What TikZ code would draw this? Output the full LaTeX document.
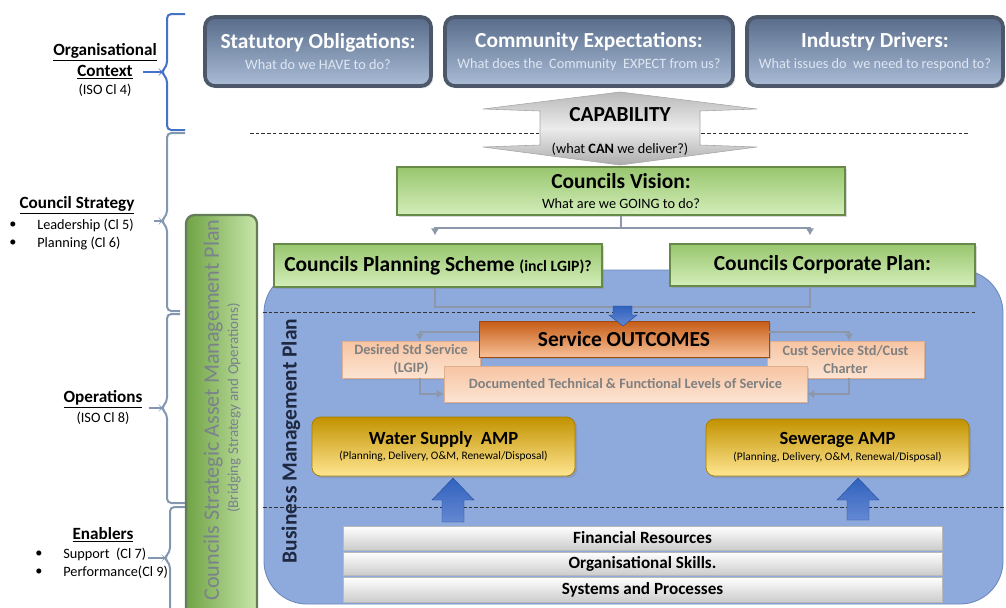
\documentclass[tikz,border=0pt]{standalone}
\usepackage{fontspec}
\setmainfont{Carlito}
\usetikzlibrary{arrows.meta,positioning,shadows}
\definecolor{slateEdge}{RGB}{76,88,106}
\definecolor{slateTop}{RGB}{88,108,138}
\definecolor{slateBottom}{RGB}{170,188,214}
\definecolor{slateSub}{RGB}{222,230,242}
\definecolor{leafEdge}{RGB}{104,138,72}
\definecolor{leafTop}{RGB}{152,198,110}
\definecolor{leafBottom}{RGB}{212,238,186}
\definecolor{sampDark}{RGB}{112,163,70}
\definecolor{sampLight}{RGB}{200,230,170}
\definecolor{sampEdge}{RGB}{100,124,88}
\definecolor{sampText}{RGB}{122,130,140}
\definecolor{poolBlue}{RGB}{142,169,219}
\definecolor{poolEdge}{RGB}{108,136,190}
\definecolor{bmpText}{RGB}{30,40,64}
\definecolor{emberTop}{RGB}{198,92,22}
\definecolor{emberBottom}{RGB}{247,192,152}
\definecolor{peachTop}{RGB}{247,196,162}
\definecolor{peachBottom}{RGB}{252,228,210}
\definecolor{mutedText}{RGB}{128,128,128}
\definecolor{goldTop}{RGB}{194,146,0}
\definecolor{goldBottom}{RGB}{255,230,146}
\definecolor{liftTop}{RGB}{48,98,190}
\definecolor{liftBottom}{RGB}{100,136,210}
\definecolor{linkGrey}{RGB}{140,152,170}
\definecolor{braceBlue}{RGB}{68,114,196}
\definecolor{braceGrey}{RGB}{132,151,176}

\begin{document}
\begin{tikzpicture}[
  x=0.7pt, y=-0.7pt,
  every node/.style={font=\fontsize{10}{12}\selectfont},
  pxsize/.style 2 args={minimum width=#1*0.7pt,minimum height=#2*0.7pt},
  heading/.style={font=\fontsize{12}{14}\selectfont\bfseries},
  leftnote/.style={anchor=west,inner sep=0pt},
  topbox/.style={draw=slateEdge,line width=2.6pt,rounded corners=7pt,top color=slateTop,bottom color=slateBottom,inner sep=0pt,align=center,text=white,drop shadow={opacity=0.3,shadow xshift=1.5pt,shadow yshift=-1.5pt}},
  leafbox/.style={draw=leafEdge,line width=2pt,top color=leafTop,bottom color=leafBottom,inner sep=0pt,align=center,drop shadow={opacity=0.3,shadow xshift=1.5pt,shadow yshift=-1.5pt}},
  pool/.style={draw=poolEdge,line width=0.6pt,fill=poolBlue,rounded corners=30pt,inner sep=0pt},
  emberbox/.style={draw=emberTop!80!black,line width=0.4pt,top color=emberTop,bottom color=emberBottom,inner sep=0pt,align=center,drop shadow={opacity=0.3,shadow xshift=1.2pt,shadow yshift=-1.2pt}},
  peachbox/.style={draw=peachTop!90!black,line width=0.4pt,top color=peachTop,bottom color=peachBottom,inner sep=0pt,align=center,text=mutedText,font=\fontsize{10}{13}\selectfont\bfseries,drop shadow={opacity=0.25,shadow xshift=1.2pt,shadow yshift=-1.2pt}},
  goldbox/.style={draw=goldTop!85!black,line width=0.5pt,rounded corners=6pt,top color=goldTop,bottom color=goldBottom,inner sep=0pt,align=center,drop shadow={opacity=0.3,shadow xshift=1.5pt,shadow yshift=-1.5pt}},
  barbox/.style={draw=gray!55,line width=0.6pt,top color=white,bottom color=gray!40,inner sep=0pt,font=\fontsize{12}{14}\selectfont\bfseries},
  liftarrow/.style={top color=liftTop,bottom color=liftBottom,draw=liftTop!80!black,line width=0.3pt},
  link/.style={draw=linkGrey,line width=1.4pt},
  linkto/.style={link,-{Latex[length=5pt,width=6pt]}},
  sidebrace/.style={line width=1.4pt,rounded corners=3pt},
  guide/.style={draw=black!80,line width=0.6pt,dash pattern=on 2.5pt off 1.5pt}
]
  \useasboundingbox (0,0) rectangle (1006,608);

  % left column: headings and their braces
  \node[heading] (orgTitle) at (105,52) {\underline{Organisational}};
  \node[heading] (orgCtx) at (105,72) {\underline{Context}};
  \node (orgIso) at (105,90) {(ISO Cl 4)};

  \node[heading] (stratTitle) at (77,205) {\underline{Council Strategy}};
  \node[leftnote] (stratDotA) at (9,225) {\textbullet};
  \node[leftnote] (stratLead) at (37,225) {Leadership (Cl 5)};
  \node[leftnote] (stratDotB) at (9,243) {\textbullet};
  \node[leftnote] (stratPlan) at (37,243) {Planning (Cl 6)};

  \node[heading] (opsTitle) at (103,399) {\underline{Operations}};
  \node (opsIso) at (103,418) {(ISO Cl 8)};

  \node[heading] (enabTitle) at (103,535) {\underline{Enablers}};
  \node[leftnote] (enabDotA) at (35,554) {\textbullet};
  \node[leftnote] (enabSupport) at (63,554) {Support\ \ (Cl 7)};
  \node[leftnote] (enabDotB) at (35,572) {\textbullet};
  \node[leftnote] (enabPerf) at (63,572) {Performance(Cl 9)};

  \draw[sidebrace,braceBlue] (185,14) -- (167,14) -- (167,66) -- (161,72) coordinate (tipOrg) -- (167,78) -- (167,130) -- (185,130);
  \draw[sidebrace,braceGrey] (185,133) -- (167,133) -- (167,215) -- (161,221) coordinate (tipStrat) -- (167,227) -- (167,311) -- (180,311);
  \draw[sidebrace,braceGrey] (180,314) -- (167,314) -- (167,402) -- (161,408) coordinate (tipOps) -- (167,414) -- (167,503) -- (185,503);
  \draw[sidebrace,braceGrey] (185,507) -- (170,507) -- (170,552) -- (164,558) coordinate (tipEnab) -- (170,564) -- (170,650);

  \draw[sidebrace,braceBlue] ([xshift=4pt]tipOrg -| orgCtx.east) -- (tipOrg);
  \draw[sidebrace,braceGrey] ([xshift=14pt]tipStrat -| stratLead.east) -- (tipStrat);
  \draw[sidebrace,braceGrey] ([xshift=1pt]tipOps -| opsTitle.east) -- (tipOps);
  \draw[sidebrace,braceGrey] ([xshift=1pt]tipEnab -| enabSupport.east) -- (tipEnab);

  % context boxes
  \node[topbox,pxsize={226}{69}] (statutory) at (318,51.5)
    {{\fontsize{15}{18}\selectfont\bfseries Statutory Obligations:}\\[3pt]{\color{slateSub}What do we HAVE to do?}};
  \node[topbox,pxsize={288}{69}] (community) at (589,51.5)
    {{\fontsize{15}{18}\selectfont\bfseries Community Expectations:}\\[3pt]{\color{slateSub}What does the\ \ Community\ \ EXPECT from us?}};
  \node[topbox,pxsize={256}{69}] (industry) at (875,51.5)
    {{\fontsize{15}{18}\selectfont\bfseries Industry Drivers:}\\[3pt]{\color{slateSub}What issues do\ \ we need to respond to?}};

  \draw[guide] (250,133) -- (970,133);
  \shade[top color=gray!55,bottom color=gray!65,middle color=gray!15,draw=gray!70]
    (620,92) -- (757,109) -- (700,111) -- (700,145) -- (757,147) -- (620,165)
    -- (483,147) -- (540,145) -- (540,111) -- (483,109) -- cycle;
  \node[font=\fontsize{15}{18}\selectfont\bfseries] (capability) at (620,115) {CAPABILITY};
  \node (canDeliver) at (620,149) {(what \textbf{CAN} we deliver?)};

  % strategy and the business management plan
  \node[pool,pxsize={739}{334}] (bizPlan) at (633.5,437) {};
  \draw[guide] (263,312) -- (977,312);
  \draw[guide] (263,507) -- (1006,507);

  \node[pxsize={71}{435},draw=sampEdge,line width=1.6pt,rounded corners=6pt,left color=sampDark,right color=sampLight,inner sep=0pt] (samp) at (221.5,432.5) {};
  \node[rotate=90,text=sampText,font=\fontsize{15.5}{18}\selectfont] (sampTitle) at (213,410) {Councils Strategic Asset Management Plan};
  \node[rotate=90,text=sampText,font=\fontsize{10.5}{12}\selectfont] (sampNote) at (234,408) {(Bridging Strategy and Operations)};

  \node[rotate=90,text=bmpText,font=\fontsize{15}{18}\selectfont\bfseries] (bizLabel) at (291,441) {Business Management Plan};

  \node[leafbox,pxsize={448}{48}] (vision) at (621,191)
    {{\fontsize{15}{18}\selectfont\bfseries Councils Vision:}\\[2pt]What are we GOING to do?};
  \node[leafbox,pxsize={328}{43}] (planScheme) at (438,265.5)
    {\fontsize{15}{18}\selectfont\bfseries Councils Planning Scheme {\fontsize{11}{13}\selectfont (incl LGIP)?}};
  \node[leafbox,pxsize={305}{42}] (corpPlan) at (822.5,265)
    {\fontsize{15}{18}\selectfont\bfseries Councils Corporate Plan:};

  \coordinate (tapL) at (435,0);
  \coordinate (tapR) at (810,0);
  \draw[link] (vision.south) -- ++(0,12) coordinate (fork);
  \draw[linkto] (fork) -| ([yshift=5pt]tapL |- planScheme.north);
  \draw[linkto] (fork) -| ([yshift=5pt]tapR |- corpPlan.north);
  \draw[link] (tapL |- planScheme.south) -- ++(0,19) -| (tapR |- corpPlan.south);

  % levels of service
  \node[peachbox,pxsize={138}{37}] (desiredStd) at (411,359.5) {Desired Std Service\\(LGIP)};
  \node[peachbox,pxsize={157}{37}] (custStd) at (845.5,359.5) {Cust Service Std/Cust\\Charter};
  \node[emberbox,pxsize={290}{36}] (outcomes) at (624,339) {\fontsize{15}{18}\selectfont\bfseries Service OUTCOMES};
  \node[peachbox,pxsize={363}{36}] (techLos) at (625.5,384) {Documented Technical \& Functional Levels of Service};

  \shade[liftarrow] (613,306) -- (632,306) -- (632,315) -- (637,315) -- (623,326) -- (609,315) -- (613,315) -- cycle;

  \draw[linkto] ([yshift=5pt]outcomes.west) -| ([xshift=6pt]desiredStd.north);
  \draw[linkto] ([xshift=6pt]desiredStd.south) |- ([yshift=-7pt]techLos.west);
  \draw[linkto] ([yshift=5pt]outcomes.east) -| ([xshift=2.5pt]custStd.north);
  \draw[linkto] ([xshift=2.5pt]custStd.south) |- ([yshift=-7pt]techLos.east);

  % asset management plans and enablers
  \node[goldbox,pxsize={263}{59}] (waterAmp) at (443.5,446.5)
    {{\fontsize{13}{15}\selectfont\bfseries Water Supply\ \ AMP}\\[-1pt]{\fontsize{8}{10}\selectfont (Planning, Delivery, O\&M, Renewal/Disposal)}};
  \node[goldbox,pxsize={263}{57}] (sewerAmp) at (837.5,447.5)
    {{\fontsize{13}{15}\selectfont\bfseries Sewerage AMP}\\[-1pt]{\fontsize{8}{10}\selectfont (Planning, Delivery, O\&M, Renewal/Disposal)}};

  \foreach \ax/\ab in {453/522,858/520}
    \shade[liftarrow] (\ax,478) -- (\ax+21,500) -- (\ax+11,500) -- (\ax+11,\ab)
      -- (\ax-11,\ab) -- (\ax-11,500) -- (\ax-21,500) -- cycle;

  \node[barbox,pxsize={599}{24}] (finRes) at (642.5,538) {Financial Resources};
  \node[barbox,pxsize={599}{23}] (orgSkills) at (642.5,563.5) {Organisational Skills.};
  \node[barbox,pxsize={599}{25}] (sysProc) at (642.5,589.5) {Systems and Processes};
\end{tikzpicture}
\end{document}
